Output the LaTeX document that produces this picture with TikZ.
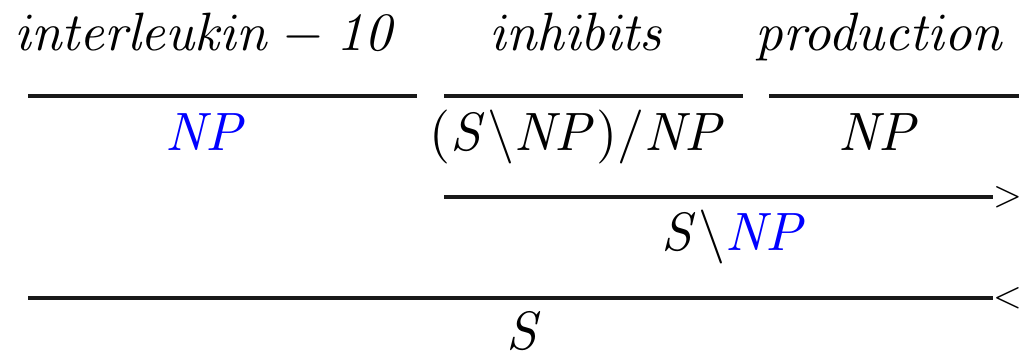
\documentclass[tikz,border=0pt]{standalone}
\begin{document}
\begin{tikzpicture}[x=1pt,y=-1pt,
  lbl/.style={anchor=base,inner sep=0pt,outer sep=0pt,scale=5.4},
  tip/.style={anchor=west,inner sep=0pt,outer sep=0pt,scale=3.7},
  rulel/.style={line width=3.1pt,draw=black!90}]
\useasboundingbox (0,0) rectangle (1020,357);
% words
\node[lbl] (w1) at (207,50) {$\mathit{interleukin-10}$};
\node[lbl] (w2) at (578,50) {$\mathit{inhibits}$};
\node[lbl] (w3) at (881,50) {$\mathit{production}$};
% lexical rules
\coordinate (a1) at (28,96);  \coordinate (b1) at (417,96);
\coordinate (a2) at (444,96); \coordinate (b2) at (743,96);
\coordinate (a3) at (769,96); \coordinate (b3) at (1019,96);
\draw[rulel] (a1) -- (b1);
\draw[rulel] (a2) -- (b2);
\draw[rulel] (a3) -- (b3);
% categories
\node[lbl] (c1) at (207,150) {$\color{blue}\mathit{NP}$};
\node[lbl] (c2) at (578,150) {$(\mathit{S}\backslash \mathit{NP})/\mathit{NP}$};
\node[lbl] (c3) at (880,150) {$\mathit{NP}$};
% forward application
\coordinate (a4) at (444,197); \coordinate (b4) at (993,197);
\draw[rulel] (a4) -- (b4);
\node[tip] (g4) at (993,197) {$>$};
\node[lbl] (c4) at (735,250) {$\mathit{S}\backslash{\color{blue}\mathit{NP}}$};
% backward application
\coordinate (a5) at (28,298); \coordinate (b5) at (993,298);
\draw[rulel] (a5) -- (b5);
\node[tip] (g5) at (993,298) {$<$};
\node[lbl] (c5) at (525,349) {$\mathit{S}$};
\end{tikzpicture}
\end{document}
